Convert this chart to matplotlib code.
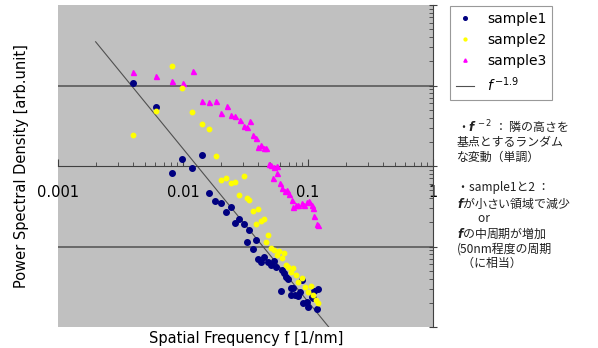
import matplotlib
matplotlib.use('Agg')
import matplotlib.pyplot as plt
import numpy as np

# sample data (f [1/nm], PSD [arb.unit])
s1_f = [0.004, 0.00604, 0.0081, 0.0099, 0.0119, 0.0141, 0.01615, 0.01815, 0.02, 0.0222,
        0.024, 0.0282, 0.0262, 0.0306, 0.034, 0.0323, 0.0384, 0.0365, 0.0401, 0.0424,
        0.0448, 0.0476, 0.0506, 0.0535, 0.0551, 0.0643, 0.0615, 0.0667, 0.0697, 0.0608,
        0.0727, 0.0727, 0.0782, 0.0763, 0.0838, 0.089, 0.0863, 0.0918, 0.0975, 0.1007,
        0.107, 0.1117, 0.121, 0.1188, 0.109]
s1_p = [10.6, 5.4, 0.83, 1.22, 0.94, 1.36, 0.46, 0.37, 0.345, 0.266,
        0.307, 0.222, 0.196, 0.19, 0.16, 0.113, 0.12, 0.093, 0.0695, 0.065,
        0.0743, 0.0645, 0.059, 0.066, 0.0557, 0.0464, 0.0506, 0.0422, 0.0394, 0.0282,
        0.0307, 0.0249, 0.0253, 0.0301, 0.0244, 0.0384, 0.0274, 0.0196, 0.0205, 0.0178,
        0.0237, 0.0279, 0.0296, 0.0169, 0.0226]

s2_f = [0.004, 0.00604, 0.0081, 0.0099, 0.0119, 0.0141, 0.01615, 0.0183, 0.02, 0.0222,
        0.024, 0.0262, 0.0306, 0.0282, 0.0323, 0.034, 0.0365, 0.0401, 0.0384, 0.0424,
        0.0448, 0.0476, 0.046, 0.051, 0.0535, 0.0564, 0.0591, 0.0615, 0.0643, 0.0667,
        0.0697, 0.0756, 0.0727, 0.0803, 0.0838, 0.089, 0.0944, 0.1007, 0.105, 0.11,
        0.1157, 0.121]
s2_p = [2.46, 4.87, 17.4, 9.26, 4.73, 3.32, 2.85, 1.33, 0.675, 0.714,
        0.607, 0.625, 0.75, 0.438, 0.402, 0.379, 0.279, 0.293, 0.19, 0.207,
        0.22, 0.137, 0.113, 0.097, 0.091, 0.0787, 0.0883, 0.0715, 0.0826, 0.059,
        0.0562, 0.0535, 0.0477, 0.0443, 0.0365, 0.0402, 0.0316, 0.0274, 0.0326, 0.0253,
        0.0216, 0.0196]

s3_f = [0.004, 0.0061, 0.0081, 0.01, 0.0121, 0.0142, 0.0162, 0.0184, 0.0202, 0.0223,
        0.024, 0.0262, 0.0285, 0.0306, 0.0326, 0.0345, 0.0366, 0.0384, 0.0401, 0.0424,
        0.0446, 0.046, 0.0488, 0.051, 0.0535, 0.0564, 0.0528, 0.0564, 0.0598, 0.0625,
        0.0654, 0.0684, 0.071, 0.0742, 0.0763, 0.0798, 0.0838, 0.089, 0.0929, 0.0975,
        0.1023, 0.107, 0.11, 0.1124, 0.1177, 0.121]
s3_p = [14.7, 13.2, 11.5, 10.7, 15.1, 6.37, 6.19, 6.49, 4.55, 5.57,
        4.34, 4.18, 3.76, 3.13, 3.07, 3.58, 2.42, 2.24, 1.74, 1.83,
        1.65, 1.69, 1.07, 1.03, 0.98, 1.0, 0.70, 0.81, 0.62, 0.536,
        0.487, 0.51, 0.451, 0.383, 0.31, 0.325, 0.332, 0.348, 0.325, 0.355,
        0.365, 0.325, 0.301, 0.237, 0.19, 0.183]

fit_f = np.array([0.002, 0.15])
fit_coef = 2.6e-4
fit_exp = -1.9

notes = ['・$\\boldsymbol{f}^{\\,-2}$ ： 隣の高さを',
         '基点とするランダム',
         'な変動（単調）',
         '',
         '・sample1と2 ：',
         '$\\boldsymbol{f}$が小さい領域で減少',
         '        or',
         '$\\boldsymbol{f}$の中周期が増加',
         '(50nm程度の周期',
         '  （に相当）']

plt.rcParams['font.family'] = ['DejaVu Sans', 'Noto Sans CJK JP']

fig = plt.figure(figsize=(5.98, 3.48), dpi=100)
ax = fig.add_axes([58/598, 21/348, 375/598, 322/348])
ax.set_facecolor('#c0c0c0')
ax.set_xscale('log')
ax.set_yscale('log')
ax.set_xlim(0.001, 1)
ax.set_ylim(0.01, 100)

for y in [10, 0.1]:
    ax.axhline(y, color='#505050', linewidth=1.1, zorder=1)

ax.plot(fit_f, fit_coef * fit_f ** fit_exp, color='#505050', linewidth=0.8,
        label='$f^{\\,\\mathrm{-1.9}}$', zorder=2)
ax.plot(s1_f, s1_p, 'o', color='#000080', markersize=4, label='sample1', zorder=3)
ax.plot(s2_f, s2_p, 'o', color='#ffff00', markersize=3.2, label='sample2', zorder=4)
ax.plot(s3_f, s3_p, '^', color='#ff00ff', markersize=3.6, label='sample3', zorder=3)

ax.spines['left'].set_visible(False)
ax.spines['top'].set_visible(False)
ax.spines['bottom'].set_position(('data', 1))
ax.spines['bottom'].set_color('#404040')
ax.spines['right'].set_color('#404040')

ax.yaxis.tick_right()
ax.tick_params(axis='y', which='both', labelright=False, direction='in', color='#404040')
ax.tick_params(axis='y', which='major', length=6, direction='inout')
ax.tick_params(axis='y', which='minor', length=3)
ax.tick_params(axis='x', which='both', direction='in', color='#404040', pad=14, labelsize=10.5)
ax.tick_params(axis='x', which='major', length=5)
ax.tick_params(axis='x', which='minor', length=3)
ax.set_xticks([0.001, 0.01, 0.1, 1])
ax.set_xticklabels(['0.001', '0.01', '0.1', '1'])

handles, labels = ax.get_legend_handles_labels()
order = [1, 2, 3, 0]
leg = fig.legend([handles[i] for i in order], [labels[i] for i in order],
                 loc='upper left', bbox_to_anchor=(450/598, 1 - 6/348),
                 borderaxespad=0, frameon=True, fancybox=False, edgecolor='#808080',
                 fontsize=10, handlelength=1.3, handletextpad=0.9, markerscale=0.65,
                 labelspacing=0.5, borderpad=0.45)
leg.get_frame().set_linewidth(0.8)

for i, line in enumerate(notes):
    fig.text(457/598, 1 - (127 + i * 15.2)/348, line, fontsize=8.6,
             family=['Noto Sans CJK JP', 'DejaVu Sans'], va='center', color='#202020')

fig.text(22/598, 1 - 166/348, 'Power Spectral Density [arb.unit]', rotation=90,
         ha='center', va='center', fontsize=10.5)
fig.text(246/598, 1 - 339/348, 'Spatial Frequency f [1/nm]', ha='center', va='center',
         fontsize=10.5)

fig.savefig('out.png', dpi=100)
